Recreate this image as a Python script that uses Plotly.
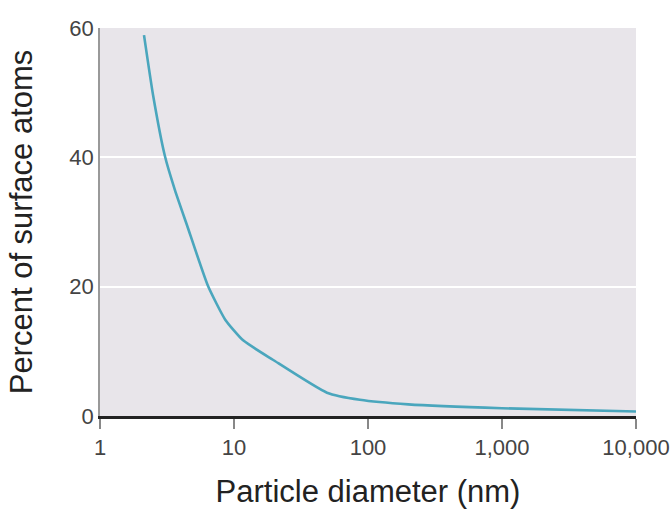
import plotly.graph_objects as go

# particle diameter (nm) and share of atoms at the surface (%)
diameter_nm = [2.13, 2.49, 3.05, 3.63, 4.46, 6.4, 8.6, 11.7, 19.5, 49.4, 87, 200, 1000, 10000]
surface_pct = [58.9, 49.6, 40.2, 34.9, 29.5, 20.1, 14.9, 11.7, 8.7, 3.6, 2.5, 1.8, 1.2, 0.7]

x_ticks = [1, 10, 100, 1000, 10000]
x_labels = ["1", "10", "100", "1,000", "10,000"]
y_ticks = [0, 20, 40, 60]

fig = go.Figure()
fig.add_trace(go.Scatter(
    x=diameter_nm, y=surface_pct,
    mode="lines",
    line=dict(color="#4aa6bd", width=2.6, shape="spline", smoothing=0.5),
    showlegend=False,
))

fig.update_layout(
    width=671, height=509,
    margin=dict(l=100, r=35, t=28, b=93),
    paper_bgcolor="white",
    plot_bgcolor="#e8e5ea",
    font=dict(family="Liberation Sans, Arial, sans-serif", color="#333"),
    xaxis=dict(
        type="log", range=[0, 4], automargin=False,
        tickvals=x_ticks, ticktext=x_labels,
        ticks="outside", ticklen=10, tickcolor="#888", tickwidth=1.5,
        ticklabeloverflow="allow",
        tickfont=dict(size=22, color="#444"),
        showgrid=False, zeroline=False,
        showline=True, linecolor="#222", linewidth=2.5,
        title=dict(text="Particle diameter (nm)", font=dict(size=31, color="#222"), standoff=24),
    ),
    yaxis=dict(
        range=[0, 60], automargin=False,
        tickvals=y_ticks,
        ticks="", tickfont=dict(size=22, color="#444"),
        showgrid=True, gridcolor="white", gridwidth=2,
        zeroline=False,
        showline=True, linecolor="#999", linewidth=1.5,
        title=dict(text="Percent of surface atoms", font=dict(size=31, color="#222"), standoff=28),
    ),
)

# drop the page's default body margin so the figure sits at the window's corner
fig.write_html("out.html", config={"displayModeBar": False},
               post_script="document.body.style.margin='0';")
